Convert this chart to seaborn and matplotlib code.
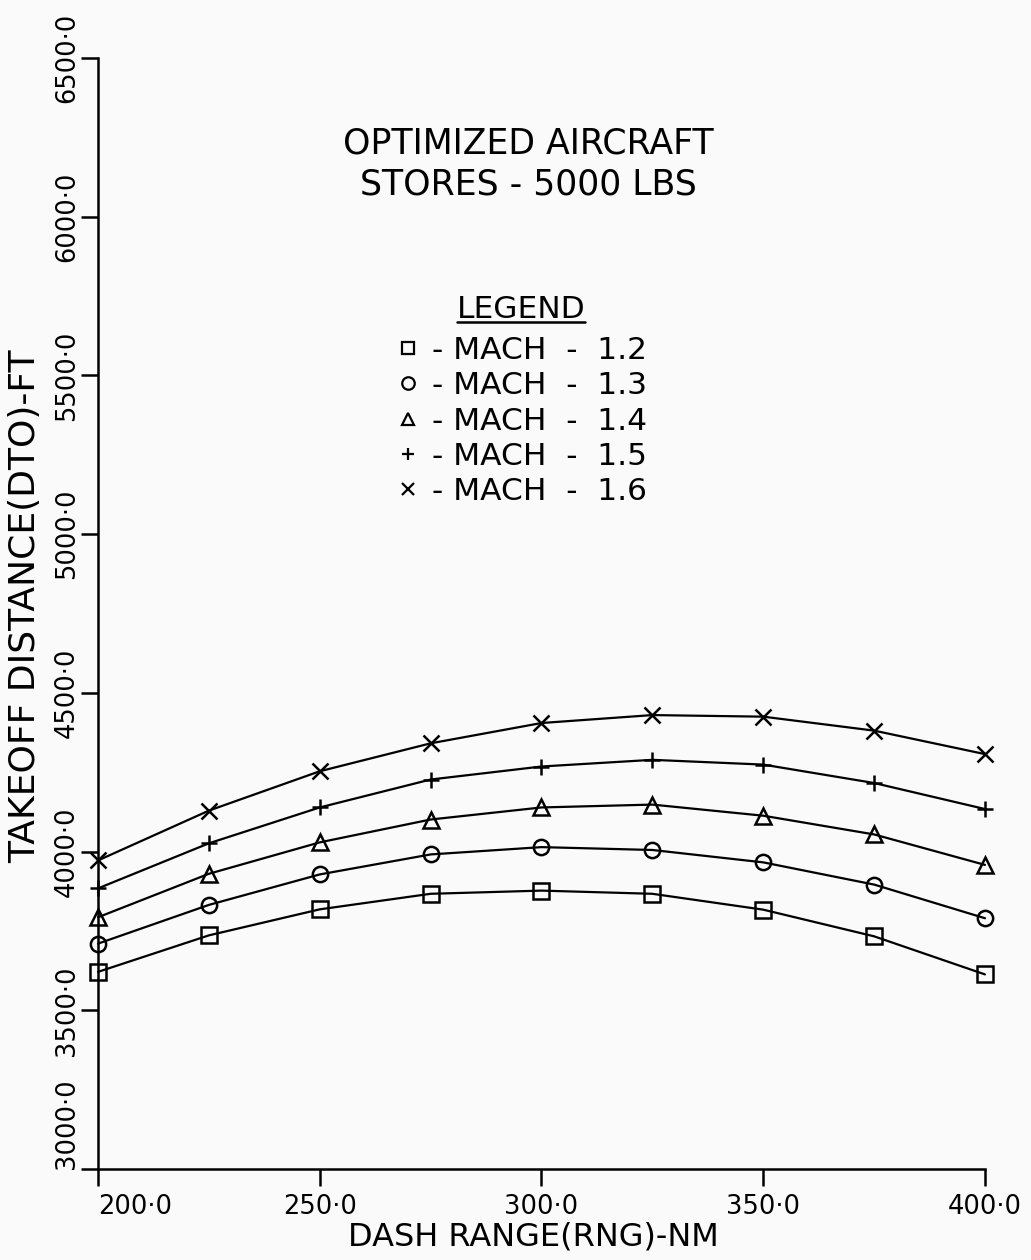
import matplotlib
matplotlib.use("Agg")
import matplotlib.pyplot as plt
import seaborn as sns
import pandas as pd
from matplotlib.lines import Line2D

sns.set_theme(style="ticks")
plt.rcParams['font.family'] = ['DejaVu Sans']
plt.rcParams['text.color'] = 'black'
plt.rcParams['axes.labelcolor'] = 'black'
plt.rcParams['xtick.color'] = 'black'
plt.rcParams['ytick.color'] = 'black'

dash_range = [200, 225, 250, 275, 300, 325, 350, 375, 400]
mach_12 = [3621, 3736, 3818, 3867, 3877, 3867, 3817, 3733, 3613]
mach_13 = [3710, 3832, 3928, 3991, 4014, 4005, 3966, 3896, 3790]
mach_14 = [3793, 3930, 4029, 4101, 4139, 4148, 4113, 4054, 3958]
mach_15 = [3884, 4026, 4139, 4227, 4268, 4289, 4274, 4216, 4134]
mach_16 = [3972, 4129, 4253, 4341, 4405, 4430, 4425, 4381, 4307]
mach_labels = ["1.2", "1.3", "1.4", "1.5", "1.6"]
series = [mach_12, mach_13, mach_14, mach_15, mach_16]
markers = ["s", "o", "^", "+", "x"]
x_ticks = [200, 250, 300, 350, 400]
y_ticks = [3000, 3500, 4000, 4500, 5000, 5500, 6000, 6500]

bg = "#fafafa"
W, H = 1031, 1260
fig = plt.figure(figsize=(W/100, H/100), dpi=100, facecolor=bg)
ax = fig.add_axes([98/W, 91/H, 887/W, 1111/H])
ax.set_facecolor(bg)

def ax_x(px):
    return (px - 98) / 887

def ax_y(py):
    return (1169 - py) / 1111

rows = []
for lab, vals in zip(mach_labels, series):
    for xv, yv in zip(dash_range, vals):
        rows.append({"rng": xv, "dto": yv, "mach": lab})
df = pd.DataFrame(rows)

for lab, mk in zip(mach_labels, markers):
    sub = df[df["mach"] == lab]
    sns.lineplot(data=sub, x="rng", y="dto", ax=ax, color="black", lw=1.6,
                 marker=mk, markersize=12 if mk in "+x" else 11,
                 markerfacecolor="none", markeredgecolor="black",
                 markeredgewidth=1.8, clip_on=False, legend=False)

ax.set_xlim(200, 400)
ax.set_ylim(3000, 6500)
sns.despine(ax=ax)
for s in ["left", "bottom"]:
    ax.spines[s].set_linewidth(1.8)
    ax.spines[s].set_color("black")

ax.set_xticks(x_ticks)
ax.set_xticklabels([f"{v}\u00b70" for v in x_ticks], fontsize=18.5)
ax.set_yticks(y_ticks)
ax.set_yticklabels([f"{v}\u00b70" for v in y_ticks], fontsize=18.5,
                   rotation=90, va="center")
ax.tick_params(axis="both", direction="out", length=12, width=1.8,
               color="black", labelcolor="black")
ax.tick_params(axis="x", pad=6)
ax.tick_params(axis="y", pad=1)
ax.get_xticklabels()[0].set_ha("left")
ax.get_yticklabels()[0].set_va("bottom")

ax.set_xlabel("DASH RANGE(RNG)-NM", fontsize=23, color="black")
ax.xaxis.set_label_coords(ax_x(533), ax_y(1222))
ax.set_ylabel("TAKEOFF DISTANCE(DTO)-FT", fontsize=26, color="black")
ax.yaxis.set_label_coords(ax_x(42), ax_y(606))

ax.text(ax_x(528), ax_y(127), "OPTIMIZED AIRCRAFT\nSTORES - 5000 LBS",
        transform=ax.transAxes, ha="center", va="top", fontsize=25,
        linespacing=1.25, color="black")

title = ax.text(ax_x(521), ax_y(309), "LEGEND", transform=ax.transAxes,
                ha="center", va="center", fontsize=22.5, color="black")

handles = [Line2D([], [], linestyle="none", marker=mk, markersize=9,
                  markerfacecolor="none", markeredgecolor="black",
                  markeredgewidth=1.6) for mk in markers]
leg = ax.legend(handles, [f"- MACH  -  {m}" for m in mach_labels],
                loc="upper left", bbox_to_anchor=(ax_x(394), ax_y(336)),
                bbox_transform=ax.transAxes, frameon=False, fontsize=22.5,
                borderpad=0, borderaxespad=0,
                handletextpad=0.3, handlelength=0.9, labelspacing=0.2)
for t in leg.get_texts():
    t.set_color("black")

fig.canvas.draw()
tb = title.get_window_extent()
inv = fig.transFigure.inverted()
(x0, y0), (x1, y1) = inv.transform([[tb.x0, tb.y0], [tb.x1, tb.y0]])
fig.add_artist(Line2D([x0, x1], [y0 + 0.001, y0 + 0.001], color="black", lw=1.8,
                      transform=fig.transFigure))

fig.savefig("out.png", dpi=100, facecolor=bg)
